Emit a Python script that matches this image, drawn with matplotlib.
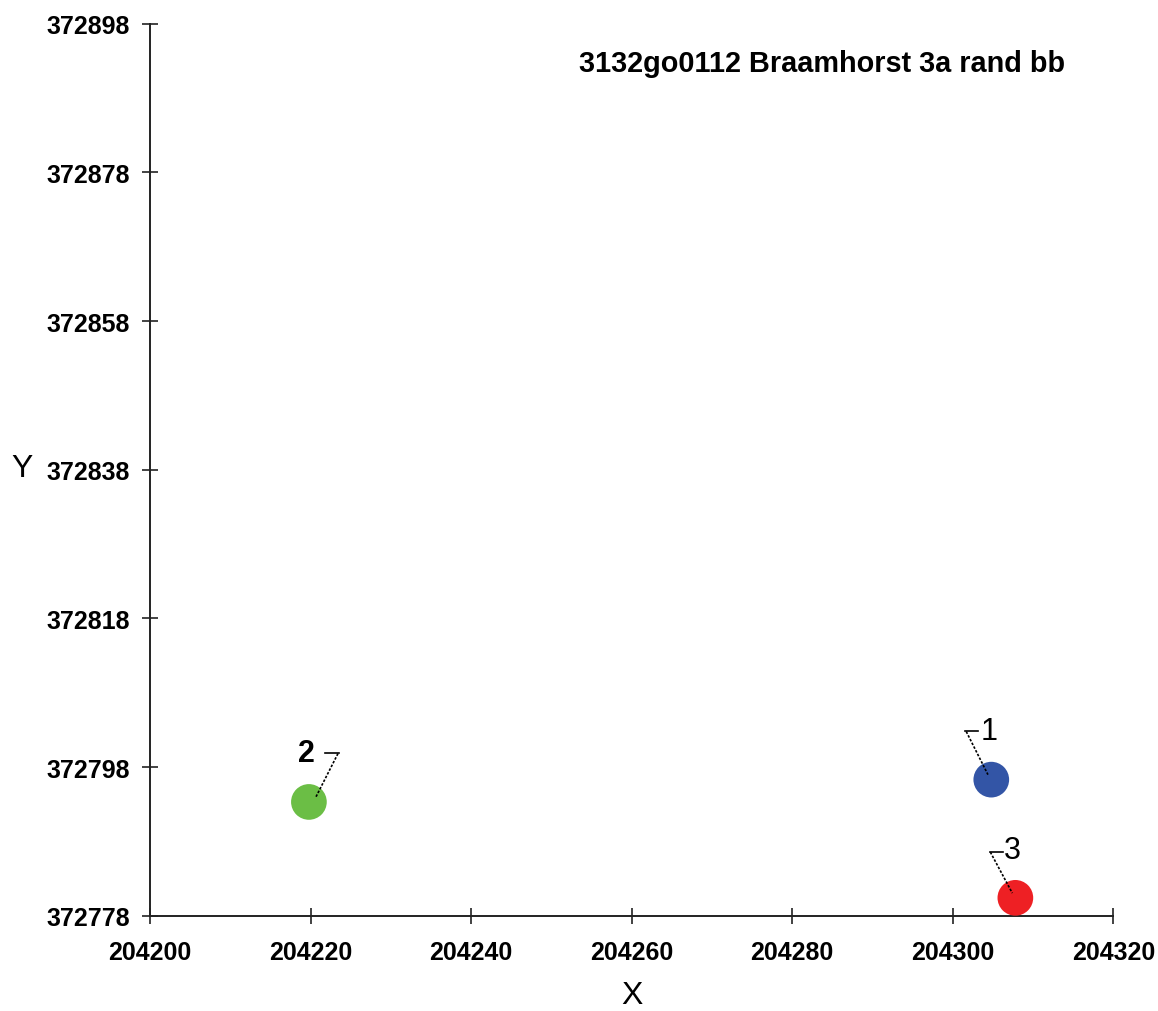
import matplotlib
matplotlib.use("Agg")
import matplotlib.pyplot as plt
import matplotlib.transforms as mtransforms

plt.rcParams['font.family'] = ['Liberation Sans', 'DejaVu Sans']

# ---- data ----
x_vals = [204304.8, 204219.8, 204307.8]
y_vals = [372796.3, 372793.3, 372780.4]
point_labels = ["1", "2", "3"]
x_ticks = [204200, 204220, 204240, 204260, 204280, 204300, 204320]
y_ticks = [372778, 372798, 372818, 372838, 372858, 372878, 372898]
title = "3132go0112 Braamhorst 3a rand bb"

# ---- style ----
colors = ["#3355A6", "#6BBE45", "#EE2024"]
label_weights = ["normal", "bold", "normal"]
# leader geometry (offsets in points relative to each marker)
leader_h = [((-18.7, 35.1), (-9.6, 35.1)),
            ((11.3, 35.5), (21.6, 35.5)),
            ((-18.5, 33.3), (-8.9, 33.3))]
leader_d = [((-18.0, 34.6), (-2.4, 3.6)),
            ((20.9, 34.8), (4.8, 3.1)),
            ((-18.0, 32.9), (-2.2, 3.4))]
text_off = [(-1.6, 35.3), (-1.9, 35.5), (-2.3, 34.6)]

fig = plt.figure(figsize=(11.58, 10.12), dpi=100)
ax = fig.add_axes([0.1295, 0.0942, 0.8319, 0.8814])

ax.scatter(x_vals, y_vals, s=660, c=colors, edgecolors='none', zorder=3, clip_on=False)

for i in range(len(x_vals)):
    tr = fig.dpi_scale_trans + mtransforms.ScaledTranslation(x_vals[i], y_vals[i], ax.transData)
    (a, b) = leader_h[i]
    ax.plot([a[0] / 72, b[0] / 72], [a[1] / 72, b[1] / 72], color='black', lw=1.2,
            transform=tr, clip_on=False, zorder=4)
    (a, b) = leader_d[i]
    ax.plot([a[0] / 72, b[0] / 72], [a[1] / 72, b[1] / 72], color='black', lw=1.2,
            linestyle=(0, (1.5, 1.0)), transform=tr, clip_on=False, zorder=4)
    ax.annotate(point_labels[i], xy=(x_vals[i], y_vals[i]), xytext=text_off[i],
                textcoords='offset points', ha='center', va='center',
                fontsize=22, fontweight=label_weights[i], color='black', zorder=5)

ax.set_xlim(x_ticks[0], x_ticks[-1])
ax.set_ylim(y_ticks[0], y_ticks[-1])
ax.set_xticks(x_ticks)
ax.set_yticks(y_ticks)
ax.set_xticklabels([str(t) for t in x_ticks], fontsize=18, fontweight='bold')
ax.set_yticklabels([str(t) for t in y_ticks], fontsize=18, fontweight='bold')
ax.tick_params(axis='both', direction='inout', length=11, width=1.2, color='#222222')
ax.tick_params(axis='x', pad=12)
ax.tick_params(axis='y', pad=9)

for s in ['top', 'right']:
    ax.spines[s].set_visible(False)
for s in ['left', 'bottom']:
    ax.spines[s].set_linewidth(1.4)
    ax.spines[s].set_color('#222222')

fig.text(821.7 / 1158, 1 - 72.3 / 1012, title, ha='center', va='baseline',
         fontsize=20.8, fontweight='bold')
fig.text(631.5 / 1158, 1 - 1004 / 1012, "X", ha='center', va='baseline', fontsize=23)
fig.text(22 / 1158, 1 - 469 / 1012, "Y", ha='center', va='center', fontsize=23)

fig.savefig("out.png", dpi=100)
